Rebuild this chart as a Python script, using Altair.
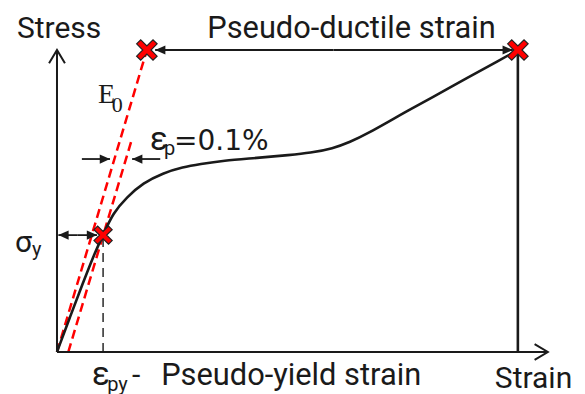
import altair as alt
import pandas as pd

# ---- data (normalised units: strain 0..100 at failure, stress 0..100 at failure) ----
curve_strain = [0.0, 2.82, 5.64, 7.81, 9.98, 12.15, 15.19, 18.66, 23.0, 27.34, 31.03, 36.02,
                43.4, 50.56, 54.9, 59.89, 63.58, 67.26, 74.42, 81.59, 88.96, 96.12, 100.0]
curve_stress = [0.0, 11.59, 22.85, 31.46, 38.74, 46.03, 51.33, 55.96, 59.27, 61.26, 62.25, 63.41,
                64.24, 65.23, 65.9, 67.39, 69.54, 72.19, 78.48, 84.44, 90.73, 96.69, 100.0]

# initial modulus line and 0.1% offset line
e0_strain = [0.0, 19.5]
e0_stress = [0.0, 100.0]
off_strain = [2.45, 16.2]
off_stress = [0.0, 70.2]

yield_strain, yield_stress = 10.0, 38.7
fail_strain, fail_stress = 100.0, 100.0
e0_top_strain = 19.5

cross_strain = [e0_top_strain, fail_strain, yield_strain]
cross_stress = [100.0, fail_stress, yield_stress]
cross_size = [420, 420, 330]

# axes extents
x_axis_end = 106.5
y_axis_end = 100.0

# arrows: (x_from, y_from, x_tip, y_tip)
arrow_x0 = [60.0, 60.0, 4.5, 4.5, 5.4, 22.4]
arrow_y0 = [100.0, 100.0, 38.7, 38.7, 63.9, 63.9]
arrow_x1 = [21.3, 98.9, 0.3, 8.7, 11.5, 16.3]
arrow_y1 = [100.0, 100.0, 38.7, 38.7, 63.9, 63.9]
arrow_ang = [180, 0, 180, 0, 0, 180]

# labels
main_text = ["Stress", "Pseudo-ductile strain", "Pseudo-yield strain", "Strain", "-"]
main_x = [-8.7, 32.6, 22.6, 95.0, 16.3]
main_y = [104.0, 104.0, -10.9, -11.9, -10.9]
main_size = [30, 30.8, 30.8, 30, 30]

greek_text = ["ε", "σ", "ε"]
greek_x = [7.6, -9.1, 20.2]
greek_y = [-10.9, 33.1, 66.9]
greek_size = [33, 30, 33]

sub_text = ["py", "y", "p"]
sub_x = [10.9, -5.4, 23.2]
sub_y = [-12.9, 31.8, 65.3]

num_text = ["=0.1%"]
num_x = [25.4]
num_y = [66.9]

serif_text = ["E", "0"]
serif_x = [8.9, 11.9]
serif_y = [82.4, 79.5]
serif_size = [28, 22]

X_DOMAIN = [-10.63, 112.83]
Y_DOMAIN = [-13.91, 113.91]

xs = alt.Scale(domain=X_DOMAIN, nice=False, zero=False)
ys = alt.Scale(domain=Y_DOMAIN, nice=False, zero=False)

INK = "#1a1a1a"
RED = "#ff0000"


def enc_xy(x="x", y="y"):
    return dict(x=alt.X(f"{x}:Q", scale=xs, axis=None),
                y=alt.Y(f"{y}:Q", scale=ys, axis=None))


curve_df = pd.DataFrame({"x": curve_strain, "y": curve_stress})
curve = alt.Chart(curve_df).mark_line(color=INK, strokeWidth=2.6, interpolate="basis").encode(**enc_xy())

red_df = pd.DataFrame({
    "x": [e0_strain[0], off_strain[0]], "y": [e0_stress[0], off_stress[0]],
    "x2": [e0_strain[1], off_strain[1]], "y2": [e0_stress[1], off_stress[1]],
})
red = alt.Chart(red_df).mark_rule(color=RED, strokeWidth=2.5, strokeDash=[9, 5]).encode(
    **enc_xy(), x2="x2:Q", y2="y2:Q")

solid_df = pd.DataFrame({
    "x": [0.0, 0.0, fail_strain], "y": [0.0, 0.0, 0.0],
    "x2": [x_axis_end - 0.3, 0.0, fail_strain], "y2": [0.0, y_axis_end, fail_stress],
    "w": [2.0, 2.0, 2.6],
})
solid = alt.Chart(solid_df).mark_rule(color=INK).encode(
    **enc_xy(), x2="x2:Q", y2="y2:Q", strokeWidth=alt.StrokeWidth("w:Q", scale=None))

dash_df = pd.DataFrame({"x": [yield_strain], "y": [0.0], "x2": [yield_strain], "y2": [yield_stress]})
vdash = alt.Chart(dash_df).mark_rule(color=INK, strokeWidth=1.4, strokeDash=[9, 6]).encode(
    **enc_xy(), x2="x2:Q", y2="y2:Q")

arr_df = pd.DataFrame({"x": arrow_x0, "y": arrow_y0, "x2": arrow_x1, "y2": arrow_y1, "a": arrow_ang})
shafts = alt.Chart(arr_df).mark_rule(color=INK, strokeWidth=1.8).encode(**enc_xy(), x2="x2:Q", y2="y2:Q")
heads = alt.Chart(arr_df).mark_point(
    shape="M0,0L-1,-0.45L-1,0.45Z", filled=True, color=INK, size=420, opacity=1
).encode(**enc_xy("x2", "y2"), angle=alt.Angle("a:Q", scale=None))

chev_df = pd.DataFrame({"x": [x_axis_end, 0.0], "y": [0.0, y_axis_end], "a": [0, 270]})
chevrons = alt.Chart(chev_df).mark_point(
    shape="M-1,-0.6L0,0L-1,0.6", filled=False, color=INK, strokeWidth=2, size=700, opacity=1
).encode(**enc_xy(), angle=alt.Angle("a:Q", scale=None))

cross_df = pd.DataFrame({"x": cross_strain, "y": cross_stress, "s": cross_size})
crosses = alt.Chart(cross_df).mark_point(
    shape="M-1,-0.6L-0.6,-1L0,-0.4L0.6,-1L1,-0.6L0.4,0L1,0.6L0.6,1L0,0.4L-0.6,1L-1,0.6L-0.4,0Z",
    filled=True, fill=RED, stroke="#222222", strokeWidth=1.2, opacity=1
).encode(**enc_xy(), size=alt.Size("s:Q", scale=None))


def label_layer(text, x, y, font, size=None, fixed=None):
    df = pd.DataFrame({"t": text, "x": x, "y": y})
    kw = {}
    if size is not None:
        df["s"] = size
        kw["size"] = alt.Size("s:Q", scale=None)
    mk = dict(align="left", baseline="alphabetic", font=font, color=INK)
    if fixed is not None:
        mk["fontSize"] = fixed
    return alt.Chart(df).mark_text(**mk).encode(**enc_xy(), text="t:N", **kw)


main_lbl = label_layer(main_text, main_x, main_y, "Roboto", size=main_size)
greek_lbl = label_layer(greek_text, greek_x, greek_y, "Roboto", size=greek_size)
sub_lbl = label_layer(sub_text, sub_x, sub_y, "Roboto", fixed=20)
num_lbl = label_layer(num_text, num_x, num_y, "DejaVu Sans", fixed=28)
serif_lbl = label_layer(serif_text, serif_x, serif_y, "Liberation Serif", size=serif_size)

chart = alt.layer(
    red, vdash, solid, curve, shafts, heads, chevrons, crosses,
    main_lbl, greek_lbl, sub_lbl, num_lbl, serif_lbl
).properties(
    width=569, height=386, padding=0,
    autosize=alt.AutoSizeParams(type="none"),
).configure_view(stroke=None)

chart.save("out.html", embed_options={"renderer": "svg", "actions": False})
